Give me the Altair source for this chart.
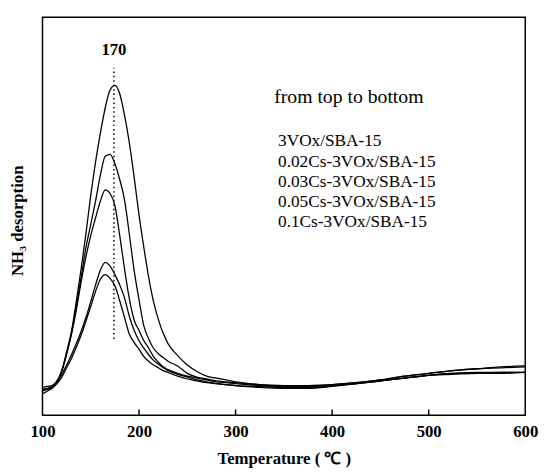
import altair as alt
import pandas as pd

# Temperature grid (°C)
temps = [100, 105, 110, 115, 120, 125, 130, 135, 140, 145, 150, 155, 160, 165, 170, 175,
         180, 185, 190, 195, 200, 205, 210, 215, 220, 225, 230, 240, 250, 260, 270, 280,
         290, 300, 325, 350, 375, 400, 425, 450, 475, 500, 525, 550, 575, 600]

# NH3 desorption signal (arbitrary units)
s_3vox = [28, 29, 31, 36, 48, 68, 90, 122, 157, 195, 236, 272, 303, 330, 349, 354,
          345, 322, 292, 255, 215, 180, 148, 122, 103, 88, 77, 64, 54, 47, 42, 40,
          38, 36, 33, 32, 32, 33, 35, 38, 42, 45, 48, 50, 52, 53]
s_002 = [27, 28, 30, 35, 47, 66, 88, 116, 148, 180, 205, 230, 258, 278, 280, 270,
         253, 231, 194, 155, 124, 96, 82, 72, 66, 62, 58, 53, 45, 41, 39, 37,
         36, 35, 33, 32, 32, 33, 35, 38, 42, 45, 48, 50, 51, 52]
s_003 = [30, 31, 32, 37, 48, 66, 87, 113, 143, 170, 193, 212, 230, 242, 238, 225,
         193, 157, 125, 102, 91, 80, 72, 63, 57, 52, 49, 45, 42, 40, 38, 36,
         35, 34, 32, 31, 31, 32, 34, 37, 40, 43, 45, 46, 46, 46]
s_005 = [26, 28, 31, 36, 44, 54, 65, 77, 90, 105, 122, 140, 156, 164, 160, 151,
         140, 126, 106, 91, 80, 72, 65, 59, 55, 51, 48, 44, 41, 38, 36, 34,
         33, 32, 31, 30, 30, 32, 34, 37, 40, 43, 45, 45, 46, 46]
s_01 = [23, 26, 29, 34, 41, 51, 61, 73, 86, 101, 117, 133, 146, 151, 147, 139,
        123, 105, 87, 78, 71, 63, 58, 54, 51, 48, 46, 42, 39, 37, 35, 34,
        33, 32, 30, 29, 29, 31, 34, 37, 40, 43, 44, 45, 45, 46]

samples = ["3VOx/SBA-15", "0.02Cs-3VOx/SBA-15", "0.03Cs-3VOx/SBA-15",
           "0.05Cs-3VOx/SBA-15", "0.1Cs-3VOx/SBA-15"]
series = [s_3vox, s_002, s_003, s_005, s_01]

x_ticks = [100, 200, 300, 400, 500, 600]
inner_ticks = [200, 300, 400, 500]

peak_x = [174]
peak_label = ["170"]
peak_label_y = [392]
dot_top = [373]
dot_bottom = [82]

header = ["from top to bottom"]
header_x = [340]
header_y = [341]
legend_x = 344
legend_y = [294, 272, 250.5, 229, 207]

FONT = "Liberation Serif, Times New Roman, serif"

rows = []
for name, vals in zip(samples, series):
    for t, v in zip(temps, vals):
        rows.append({"T": t, "I": v, "sample": name})
df = pd.DataFrame(rows)

xs = alt.Scale(domain=[100, 600], nice=False, zero=False)
ys = alt.Scale(domain=[0, 427], nice=False, zero=False)

lines = alt.Chart(df).mark_line(color="black", strokeWidth=1.3, interpolate="monotone").encode(
    x=alt.X("T:Q", scale=xs, axis=alt.Axis(
        values=x_ticks, title="Temperature ( ℃ )", format="d",
        labelFont=FONT, labelFontSize=17, labelFontWeight="bold", labelColor="black",
        labelPadding=8, labelFlush=False, labelOverlap=False,
        ticks=False, domain=False, grid=False,
        titleFont=FONT, titleFontSize=17, titleFontWeight="bold", titleColor="black",
        titleY=44, titleBaseline="middle")),
    y=alt.Y("I:Q", scale=ys, axis=alt.Axis(
        title="NH₃ desorption", labels=False, ticks=False, domain=False, grid=False,
        titleFont=FONT, titleFontSize=17, titleFontWeight="bold", titleColor="black",
        titleX=-25, titleY=206, titleBaseline="middle", titleAlign="center")),
    detail="sample:N",
)

tick_df = pd.DataFrame({"T": inner_ticks})
ticks = alt.Chart(tick_df).mark_rule(color="black", strokeWidth=1.5).encode(
    x=alt.X("T:Q", scale=xs),
    y=alt.value(404),
    y2=alt.value(398),
)

dot_df = pd.DataFrame({"T": peak_x, "y1": dot_bottom, "y2": dot_top,
                       "label": peak_label, "ly": peak_label_y})
dotted = alt.Chart(dot_df).mark_rule(color="black", strokeWidth=1.5, strokeDash=[1.5, 3]).encode(
    x=alt.X("T:Q", scale=xs),
    y=alt.Y("y1:Q", scale=ys),
    y2="y2:Q",
)
peak_text = alt.Chart(dot_df).mark_text(font=FONT, fontSize=17, fontWeight="bold",
                                        color="black", align="center", baseline="middle").encode(
    x=alt.X("T:Q", scale=xs),
    y=alt.Y("ly:Q", scale=ys),
    text="label:N",
)

head_df = pd.DataFrame({"x": header_x, "y": header_y, "t": header})
head_text = alt.Chart(head_df).mark_text(font=FONT, fontSize=20, color="black",
                                         align="left", baseline="middle").encode(
    x=alt.X("x:Q", scale=xs),
    y=alt.Y("y:Q", scale=ys),
    text="t:N",
)

leg_df = pd.DataFrame({"x": [legend_x] * len(samples), "y": legend_y, "t": samples})
leg_text = alt.Chart(leg_df).mark_text(font=FONT, fontSize=17.5, color="black",
                                       align="left", baseline="middle").encode(
    x=alt.X("x:Q", scale=xs),
    y=alt.Y("y:Q", scale=ys),
    text="t:N",
)

chart = alt.layer(lines, ticks, dotted, peak_text, head_text, leg_text).properties(
    width=490,
    height=404,
    autosize=alt.AutoSizeParams(type="none"),
    padding={"left": 35, "top": 6, "right": 16, "bottom": 52},
    background="white",
).configure_view(stroke="black", strokeWidth=1.5)

chart.save("out.html", embed_options={"renderer": "svg", "actions": False})
